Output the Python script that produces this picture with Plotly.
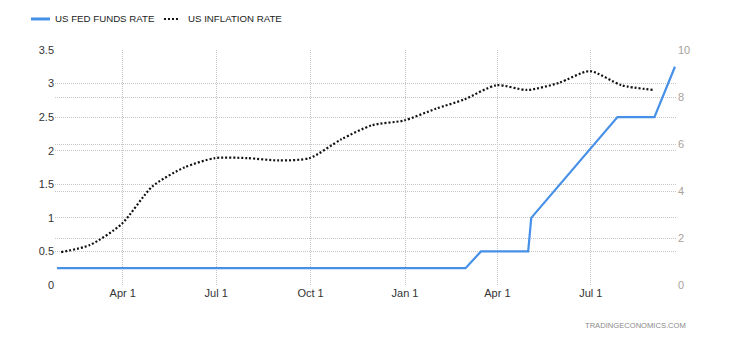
import plotly.graph_objects as go

# US Fed funds target rate (upper bound), points at FOMC decisions / month starts
fed_dates = [
    "2021-01-27", "2021-03-01", "2021-03-17", "2021-04-28", "2021-06-01",
    "2021-06-16", "2021-07-28", "2021-09-01", "2021-09-22", "2021-11-03",
    "2021-12-15", "2022-01-26", "2022-03-01", "2022-03-16", "2022-05-01",
    "2022-05-04", "2022-06-15", "2022-07-27", "2022-09-01", "2022-09-21",
]
fed_rate = [
    0.25, 0.25, 0.25, 0.25, 0.25,
    0.25, 0.25, 0.25, 0.25, 0.25,
    0.25, 0.25, 0.25, 0.50, 0.50,
    1.00, 1.75, 2.50, 2.50, 3.25,
]

# US CPI inflation, year over year, month-end
cpi_dates = [
    "2021-01-31", "2021-02-28", "2021-03-31", "2021-04-30", "2021-05-31",
    "2021-06-30", "2021-07-31", "2021-08-31", "2021-09-30", "2021-10-31",
    "2021-11-30", "2021-12-31", "2022-01-31", "2022-02-28", "2022-03-31",
    "2022-04-30", "2022-05-31", "2022-06-30", "2022-07-31", "2022-08-31",
]
cpi_rate = [
    1.4, 1.7, 2.6, 4.2, 5.0,
    5.4, 5.4, 5.3, 5.4, 6.2,
    6.8, 7.0, 7.5, 7.9, 8.5,
    8.3, 8.6, 9.1, 8.5, 8.3,
]

x_tickvals = ["2021-04-01", "2021-07-01", "2021-10-01", "2022-01-01", "2022-04-01", "2022-07-01"]
x_ticktext = ["Apr 1", "Jul 1", "Oct 1", "Jan 1", "Apr 1", "Jul 1"]

series_names = ["US FED FUNDS RATE", "US INFLATION RATE"]

FONT = "Liberation Sans, Arial, sans-serif"
BLUE = "#4690e8"
BLACK = "#111111"
GRID = "#c6c6c6"
GRID_DASH = "1px,1px"
CPI_DASH = "2px,2px"

fig = go.Figure()
fig.add_trace(go.Scatter(
    x=fed_dates, y=fed_rate, name=series_names[0], mode="lines",
    line=dict(color=BLUE, width=2.2), yaxis="y",
))
fig.add_trace(go.Scatter(
    x=cpi_dates, y=cpi_rate, name=series_names[1], mode="lines",
    line=dict(color=BLACK, width=2.2, dash=CPI_DASH, shape="spline", smoothing=0.7),
    yaxis="y2",
))

# Compact key above the plot: short line sample followed by the series name
LEG_Y = 1.132
key_shapes = [
    dict(type="line", xref="paper", yref="paper", x0=-0.0386, x1=-0.0080,
         y0=LEG_Y, y1=LEG_Y, line=dict(color=BLUE, width=3)),
    dict(type="line", xref="paper", yref="paper", x0=0.1752, x1=0.2010,
         y0=LEG_Y, y1=LEG_Y, line=dict(color=BLACK, width=2.2, dash=CPI_DASH)),
]
key_labels = [
    dict(text=series_names[0], xref="paper", yref="paper", x=-0.0032, y=LEG_Y,
         xanchor="left", yanchor="middle", showarrow=False,
         font=dict(family=FONT, size=9.7, color="#222222")),
    dict(text=series_names[1], xref="paper", yref="paper", x=0.2106, y=LEG_Y,
         xanchor="left", yanchor="middle", showarrow=False,
         font=dict(family=FONT, size=9.7, color="#222222")),
]

fig.update_layout(
    width=730, height=340,
    margin=dict(l=55, r=53, t=50, b=55),
    paper_bgcolor="white", plot_bgcolor="white",
    font=dict(family=FONT, size=11, color="#333333"),
    showlegend=False,
    xaxis=dict(
        type="date", range=["2021-01-25", "2022-09-23"],
        tickvals=x_tickvals, ticktext=x_ticktext,
        showgrid=True, gridcolor=GRID, griddash=GRID_DASH, gridwidth=1,
        zeroline=False, showline=False, ticks="",
        tickfont=dict(family=FONT, size=11, color="#333333"),
    ),
    yaxis=dict(
        range=[0, 3.5], dtick=0.5, tick0=0,
        showgrid=True, gridcolor=GRID, griddash=GRID_DASH, gridwidth=1,
        zeroline=False, showline=False, ticks="",
        tickfont=dict(family=FONT, size=11, color="#333333"),
    ),
    yaxis2=dict(
        range=[0, 10], dtick=2, tick0=0, overlaying="y", side="right",
        showgrid=True, gridcolor=GRID, griddash=GRID_DASH, gridwidth=1,
        zeroline=False, showline=False, ticks="",
        tickfont=dict(family=FONT, size=11, color="#a8a29c"),
    ),
    shapes=key_shapes,
    annotations=key_labels + [dict(
        text="TRADINGECONOMICS.COM", xref="paper", yref="paper",
        x=1.018, y=-0.172, xanchor="right", yanchor="middle", showarrow=False,
        font=dict(family=FONT, size=7.6, color="#8a8a8a"),
    )],
)

fig.write_html("out.html")
